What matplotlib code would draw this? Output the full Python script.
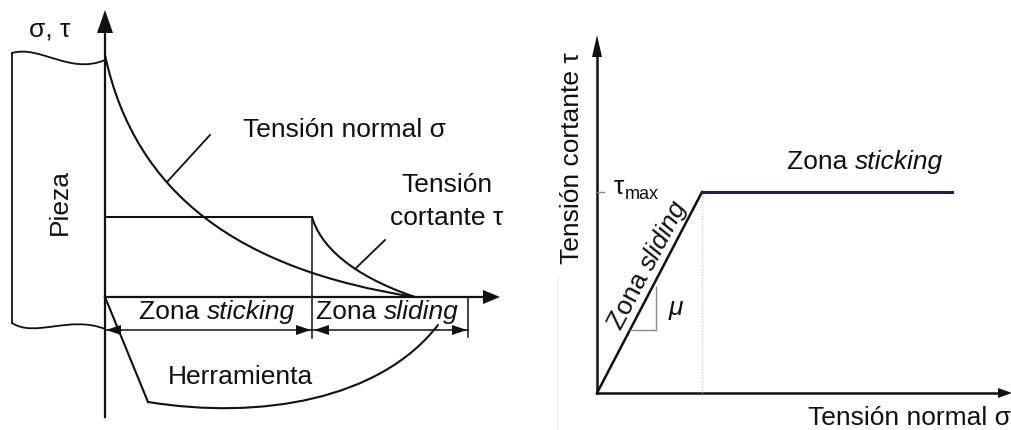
import numpy as np
import matplotlib
matplotlib.use("Agg")
import matplotlib.pyplot as plt
from matplotlib.path import Path
from matplotlib.patches import PathPatch

plt.rcParams['font.family'] = ['Liberation Sans', 'DejaVu Sans']

# ---------------- data (diagram anchor / control points, pixel-like units) ----------------
# Left panel: cubic Bezier control points of the stress curves
sigma_ctrl_x = [105, 135, 240, 415]
sigma_ctrl_y = [55, 195, 270, 297]
tau_flat_x = [105, 312]
tau_flat_y = [217, 217]
tau_ctrl_x = [312, 320, 350, 415]
tau_ctrl_y = [217, 245, 275, 297]
tool_line_x = [105, 148]
tool_line_y = [297, 402]
tool_ctrl_x = [148, 260, 380, 438]
tool_ctrl_y = [402, 420, 400, 325]
pieza_top_x = [12, 40, 70, 105]
pieza_top_y = [53, 45, 75, 60]
pieza_bot_x = [12, 35, 70, 105]
pieza_bot_y = [323, 338, 315, 329]

# Right panel
slide_x = [597, 702]
slide_y = [393, 192]
stick_x = [702, 952]
stick_y = [192, 192]

BLACK = '#111111'
NAVY = '#1c2147'
GRAY = '#8a8a8a'
FS = 19

fig = plt.figure(figsize=(10.11, 4.30), dpi=100)
ax = fig.add_axes([0, 0, 1, 1])
ax.set_xlim(0, 1011)
ax.set_ylim(430, 0)
ax.axis('off')


def bezier(xs, ys, lw=1.5, color=BLACK):
    verts = list(zip(xs, ys))
    codes = [Path.MOVETO, Path.CURVE4, Path.CURVE4, Path.CURVE4]
    ax.add_patch(PathPatch(Path(verts, codes), facecolor='none', edgecolor=color,
                           lw=lw, capstyle='round', joinstyle='round'))


def head(tip, direction, length, halfw, color=BLACK):
    d = np.array(direction, float)
    d /= np.linalg.norm(d)
    n = np.array([-d[1], d[0]])
    t = np.array(tip, float)
    b = t - d * length
    pts = np.array([t, b + n * halfw, b - n * halfw])
    ax.fill(pts[:, 0], pts[:, 1], color=color, lw=0)


lw = 1.5
# ----- left panel -----
ax.plot([105, 105], [30, 417], color=BLACK, lw=1.6)
head((105, 10), (0, -1), 23, 8)
ax.plot([105, 490], [297, 297], color=BLACK, lw=1.6)
head((500, 297), (1, 0), 17, 7)

# Pieza
bezier(pieza_top_x, pieza_top_y, lw=1.3)
bezier(pieza_bot_x, pieza_bot_y, lw=1.3)
ax.plot([12, 12], [pieza_top_y[0], pieza_bot_y[0]], color=BLACK, lw=1.3)
ax.text(60, 202, 'Pieza', rotation=90, ha='center', va='center', fontsize=FS, color=BLACK)
ax.text(50, 30, 'σ, τ', ha='center', va='center', fontsize=FS, color=BLACK)

# stress curves
bezier(sigma_ctrl_x, sigma_ctrl_y, lw=lw)
ax.plot(tau_flat_x, tau_flat_y, color=BLACK, lw=lw)
bezier(tau_ctrl_x, tau_ctrl_y, lw=lw)

# leaders and labels
ax.plot([210, 167], [135, 182], color=BLACK, lw=1.3)
ax.text(344, 130, 'Tensión normal σ', ha='center', va='center', fontsize=FS, color=BLACK)
ax.plot([385, 355], [240, 269], color=BLACK, lw=1.3)
ax.text(447, 185, 'Tensión', ha='center', va='center', fontsize=FS, color=BLACK)
ax.text(447, 218, 'cortante τ', ha='center', va='center', fontsize=FS, color=BLACK)

# zone boundaries
ax.plot([312, 312], [217, 338], color=BLACK, lw=1.1)
ax.plot([468, 468], [298, 337], color=BLACK, lw=1.1)

# dimension lines
ax.plot([105, 312], [330, 330], color=BLACK, lw=1.1)
head((106, 330), (-1, 0), 15, 5)
head((311, 330), (1, 0), 15, 5)
ax.plot([313, 468], [330, 330], color=BLACK, lw=1.1)
head((314, 330), (-1, 0), 15, 5)
head((467, 330), (1, 0), 15, 5)

ax.text(207, 312, 'Zona ', ha='right', va='center', fontsize=FS, color=BLACK)
ax.text(207, 312, 'sticking', ha='left', va='center', fontsize=FS, style='italic', color=BLACK)
ax.text(384, 312, 'Zona ', ha='right', va='center', fontsize=FS, color=BLACK)
ax.text(384, 312, 'sliding', ha='left', va='center', fontsize=FS, style='italic', color=BLACK)

# tool
ax.plot(tool_line_x, tool_line_y, color=BLACK, lw=lw)
bezier(tool_ctrl_x, tool_ctrl_y, lw=lw)
ax.text(240, 377, 'Herramienta', ha='center', va='center', fontsize=FS, color=BLACK)

# ----- right panel -----
ax.plot([557, 557], [275, 430], color='#eeeeee', lw=0.8)
ax.plot([597, 597], [55, 393], color=BLACK, lw=1.8)
head((597, 35), (0, -1), 22, 5)
ax.plot([597, 1000], [393, 393], color=BLACK, lw=1.8)
head((1012, 393), (1, 0), 14, 5)

ax.plot([702, 702], [192, 393], color='#bbbbbb', lw=0.8, ls=':')
ax.plot(slide_x, slide_y, color=BLACK, lw=1.8)
ax.plot(stick_x, stick_y, color=NAVY, lw=2.2)

ax.plot([597, 604], [192, 192], color=GRAY, lw=1.0)
ax.text(614, 194, 'τ', ha='left', va='baseline', fontsize=FS, color=BLACK)
ax.text(625, 199, 'max', ha='left', va='baseline', fontsize=13, color=BLACK)

# slope triangle
ax.plot([630, 656, 656], [330, 330, 287], color=GRAY, lw=1.0)
ax.text(676, 308, 'μ', ha='center', va='center', fontsize=FS, style='italic', color=BLACK)

ang = np.degrees(np.arctan2(slide_y[0] - slide_y[1], slide_x[1] - slide_x[0]))
ax.text(646, 268, 'Zona ', rotation=ang, rotation_mode='anchor',
        ha='right', va='center', fontsize=FS, color=BLACK)
ax.text(646, 268, 'sliding', rotation=ang, rotation_mode='anchor',
        ha='left', va='center', fontsize=FS, style='italic', color=BLACK)

ax.text(855, 162, 'Zona ', ha='right', va='center', fontsize=FS, color=BLACK)
ax.text(855, 162, 'sticking', ha='left', va='center', fontsize=FS, style='italic', color=BLACK)

ax.text(572, 158, 'Tensión cortante τ', rotation=90, ha='center', va='center', fontsize=FS, color=BLACK)
ax.text(808, 418, 'Tensión normal σ', ha='left', va='center', fontsize=FS, color=BLACK)

fig.savefig('out.png', dpi=100)
